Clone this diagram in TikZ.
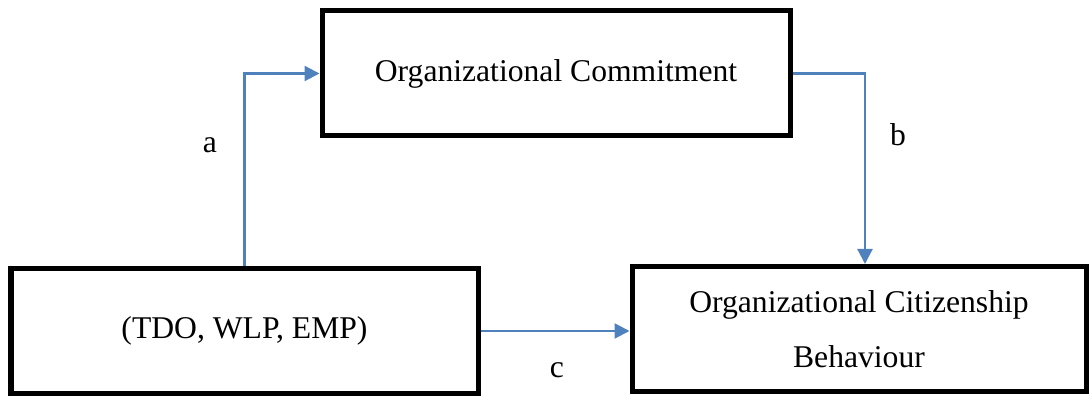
\documentclass[tikz,border=0pt]{standalone}
\usepackage{fontspec}
\setmainfont{Liberation Serif}
\usetikzlibrary{arrows.meta}
\definecolor{linkblue}{RGB}{79,129,189}
\tikzset{
  varbox/.style={draw, line width=0.1cm, minimum width=9.3cm, minimum height=2.5cm, align=center, font=\fontsize{18}{31}\selectfont},
  link/.style={-{Triangle[length=0.3cm,width=0.3cm]}, line width=0.045cm, linkblue},
  lbl/.style={font=\fontsize{18}{22}\selectfont}
}
\begin{document}
\begin{tikzpicture}
\useasboundingbox (0,0) rectangle (21.78,7.92);
\node[varbox, minimum width=9.36cm] (Commit) at (11.12,6.45) {Organizational Commitment};
\node[varbox, minimum width=9.34cm] (Pred) at (4.89,1.3) {(TDO, WLP, EMP)};
\node[varbox, minimum width=9.08cm] (OCB) at (17.18,1.34) {Organizational Citizenship\\Behaviour};
\draw[link] (Pred.north) |- (Commit.west);
\draw[link] (Commit.east) -| ([xshift=0.12cm]OCB.north);
\draw[link] (Pred.east) -- (Pred.east -| OCB.west);
\node[lbl] (LblA) at (4.2,5.02) {a};
\node[lbl] (LblB) at (17.96,5.22) {b};
\node[lbl] (LblC) at (11.14,0.52) {c};
\end{tikzpicture}
\end{document}
